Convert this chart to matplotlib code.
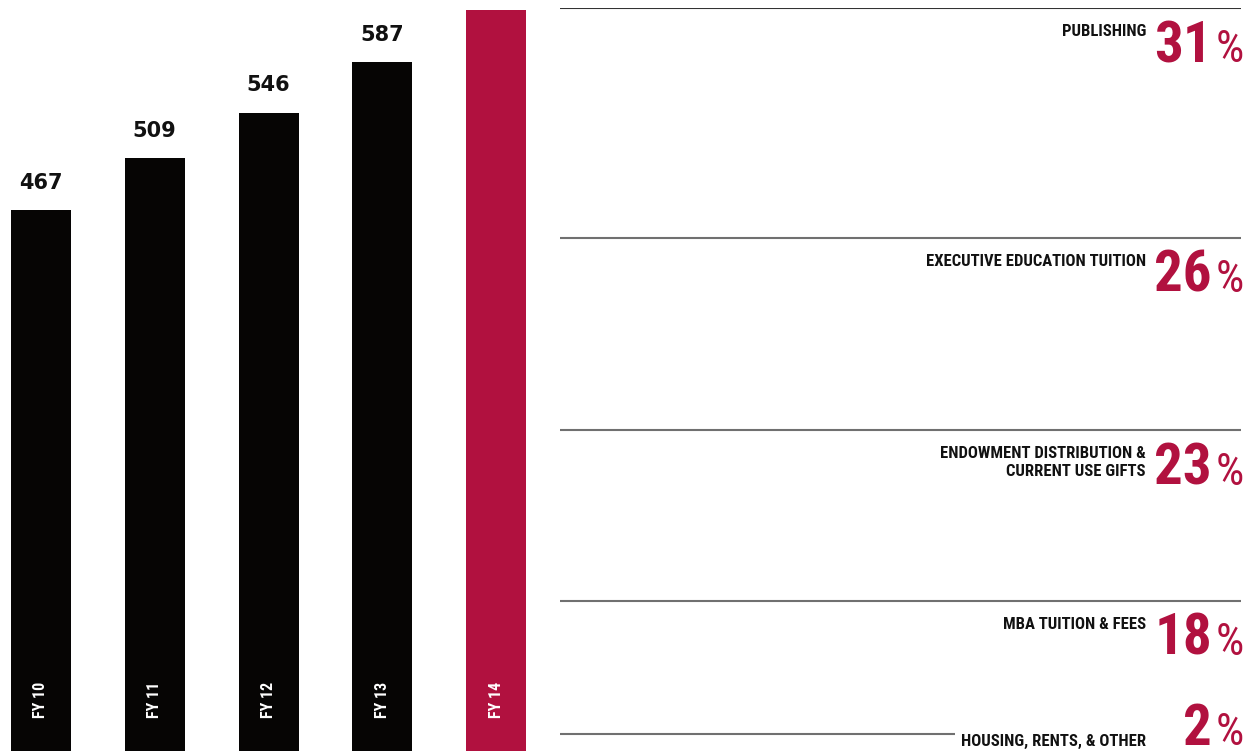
import os
import matplotlib
matplotlib.use("Agg")
import matplotlib.pyplot as plt
import matplotlib.transforms as mtransforms
from matplotlib import font_manager as fm

# ---- data ----
years = ["FY 10", "FY 11", "FY 12", "FY 13", "FY 14"]
revenue = [467, 509, 546, 587, 640]          # FY14 bar runs off the top (no label shown)
revenue_labels = ["467", "509", "546", "587", ""]
sources = ["PUBLISHING", "EXECUTIVE EDUCATION TUITION",
           "ENDOWMENT DISTRIBUTION &\nCURRENT USE GIFTS",
           "MBA TUITION & FEES", "HOUSING, RENTS, & OTHER"]
shares = [31, 26, 23, 18, 2]

BLACK = "#060504"
CRIMSON = "#B1113F"


# ---- font discovery ----
def wnum(w):
    if isinstance(w, (int, float)):
        return w
    return fm.weight_dict.get(str(w).lower(), 400)


def base(f):
    return os.path.basename(f.fname).lower().replace("-", "").replace("_", "").replace(" ", "")


ENTS = [f for f in fm.fontManager.ttflist if "italic" not in base(f) and "oblique" not in base(f)
        and str(f.style).lower() == "normal"]


def is_cond(f):
    b = base(f)
    return ("condensed" in b or "narrow" in b or str(f.stretch) in ("condensed", "extra-condensed")) \
        and "semicondensed" not in b


def pick(prefs, fallback_pred):
    for p in prefs:
        for f in ENTS:
            if p in base(f):
                return f.fname
    for f in ENTS:
        if fallback_pred(f):
            return f.fname
    return None


xcond_bold = pick(["notosansextracondensedbold.", "liberationsansnarrowbold.",
                   "robotocondensedbold.", "notosanscondensedbold.", "dejavusanscondensedbold."],
                  lambda f: is_cond(f) and wnum(f.weight) >= 600)
xcond_reg = pick(["notosansextracondensed.", "notosansextracondensedregular.",
                  "liberationsansnarrowregular.", "liberationsansnarrow.",
                  "robotocondensedregular.", "robotocondensed.",
                  "notosanscondensed.", "notosanscondensedregular.", "dejavusanscondensed."],
                 lambda f: is_cond(f) and 350 <= wnum(f.weight) < 600)

if xcond_bold:
    FB = fm.FontProperties(fname=xcond_bold)
    k = 1.0
else:
    FB = fm.FontProperties(family="DejaVu Sans", weight="bold", stretch="condensed")
    k = 0.75
FR = fm.FontProperties(fname=xcond_reg) if xcond_reg else fm.FontProperties(family="DejaVu Sans")
FN = fm.FontProperties(family="DejaVu Sans", weight="bold")

W, H = 1248, 751
fig = plt.figure(figsize=(W / 100, H / 100), dpi=100)
fig.patch.set_facecolor("white")


def px_axes(x0, y0, x1, y1):
    return fig.add_axes([x0 / W, 1 - y1 / H, (x1 - x0) / W, (y1 - y0) / H])


# ---- left: bar chart ----
ax = px_axes(0, 10, 553, 751)
xs = list(range(len(years)))
colors = [BLACK] * (len(years) - 1) + [CRIMSON]
ax.bar(xs, revenue, width=0.527, color=colors, linewidth=0)
ax.set_xlim(-0.36, 4.5)
ax.set_ylim(28.4, 629.4)
ax.axis("off")
for x, v, lab in zip(xs, revenue, revenue_labels):
    if lab:
        ax.annotate(lab, (x, v), xytext=(0, 12.5), textcoords="offset points",
                    ha="center", va="bottom", fontproperties=FN, fontsize=15,
                    color="#111111")
tr = mtransforms.blended_transform_factory(ax.transData, ax.transAxes)
for x, y in zip(xs, years):
    ax.text(x, 0.069, y, transform=tr, rotation=90, ha="center", va="center",
            color="white", fontproperties=FB, fontsize=11.5 * k)

# ---- right: revenue breakdown ----
ax2 = px_axes(560, 8, 1248, 749)
ax2.set_xlim(0, 1)
ax2.set_ylim(100, 0)
ax2.axis("off")
starts = [sum(shares[:i]) for i in range(len(shares))]
line_end = (1241 - 560) / 688
lab_x = (1146 - 560) / 688
num_x = (1212 - 560) / 688
pct_x = (1216 - 560) / 688
for i, (s, lab, y) in enumerate(zip(shares, sources, starts)):
    last = s < 5
    xmax = (955 - 560) / 688 if last else line_end
    lc = "#333333" if i == 0 else "#707070"
    ax2.plot([0, xmax], [y, y], color=lc, lw=1.5, solid_capstyle="butt")
    if last:
        lab_off, num_off, lab_va = -5, -8, "center"
    else:
        lab_off, num_off, lab_va = -11.5, -39, "top"
    ax2.annotate(lab, (lab_x, y), xytext=(0, lab_off), textcoords="offset points",
                 ha="right", va=lab_va, fontproperties=FB, fontsize=12 * k,
                 color="#111111", linespacing=1.25)
    ax2.annotate(str(s), (num_x, y), xytext=(0, num_off), textcoords="offset points",
                 ha="right", va="baseline", fontproperties=FB, fontsize=41 * k,
                 color=CRIMSON)
    ax2.annotate("%", (pct_x, y), xytext=(0, num_off), textcoords="offset points",
                 ha="left", va="baseline", fontproperties=FR, fontsize=32 * k,
                 color=CRIMSON)

fig.savefig("out.png", dpi=100)
